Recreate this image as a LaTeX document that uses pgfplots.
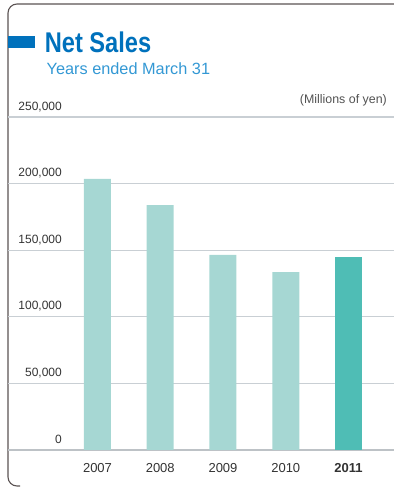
\documentclass[border=0pt]{standalone}
\usepackage{pgfplots}
\pgfplotsset{compat=1.18}
\usepackage{fontspec}
\setmainfont{Liberation Sans}
\newfontfamily\titlefont[FakeStretch=0.83]{Liberation Sans}
\definecolor{titleblue}{HTML}{0071BC}
\definecolor{subblue}{HTML}{3398D4}
\definecolor{barlight}{HTML}{A6D7D3}
\definecolor{bardark}{HTML}{4FBDB5}
\definecolor{gridcol}{HTML}{C9CFD4}
\definecolor{zerocol}{HTML}{BDC2C6}
\definecolor{framecol}{HTML}{5B5353}
\definecolor{textcol}{HTML}{333333}
\begin{document}
\begin{tikzpicture}
\useasboundingbox (0,0) rectangle (394bp,487bp);
% frame
\draw[framecol, line width=1.1bp, rounded corners=9bp] (394bp,483bp) -- (8bp,483bp) -- (8bp,1bp) -- (20bp,1bp);
% title
\fill[titleblue] (8bp,439.3bp) rectangle (35bp,451bp);
\node[anchor=base west, inner sep=0pt, text=titleblue, font=\titlefont\bfseries\fontsize{28.5bp}{32bp}\selectfont] at (44.6bp,434.3bp) {Net Sales};
\node[anchor=base west, inner sep=0pt, text=subblue, font=\fontsize{16.3bp}{19bp}\selectfont] at (46.5bp,412bp) {Years ended March 31};
\node[anchor=base east, inner sep=0pt, text=textcol!85, font=\fontsize{12.4bp}{15bp}\selectfont] at (387bp,383bp) {(Millions of yen)};
\begin{axis}[
  at={(8bp,37bp)}, anchor=south west,
  scale only axis, width=386bp, height=333bp,
  xmin=-1.426, xmax=4.725, ymin=0, ymax=250000,
  enlargelimits=false,
  axis line style={draw=none},
  major tick length=0pt,
  ymajorgrids,
  grid style={draw=gridcol, line width=1.3bp},
  ytick={0,50000,100000,150000,200000,250000},
  yticklabels={0,{50,000},{100,000},{150,000},{200,000},{250,000}},
  scaled y ticks=false,
  yticklabel style={anchor=base east, xshift=54bp, yshift=6.8bp, inner sep=0pt, text=textcol, font=\fontsize{12bp}{14bp}\selectfont},
  extra y ticks={0},
  extra y tick labels={},
  extra y tick style={grid style={draw=zerocol, line width=2.2bp}},
  xtick={0,1,2,3,4},
  xticklabels={2007,2008,2009,2010,\textbf{2011}},
  xticklabel style={anchor=base, yshift=-22.7bp, inner sep=0pt, text=textcol, font=\fontsize{13bp}{15bp}\selectfont},
]
\addplot[ybar, bar width=27bp, bar shift=0pt, fill=barlight, draw=none] coordinates {(0,203500) (1,183900) (2,146400) (3,133600)};
\addplot[ybar, bar width=27bp, bar shift=0pt, fill=bardark, draw=none] coordinates {(4,144900)};
\end{axis}
\end{tikzpicture}
\end{document}
